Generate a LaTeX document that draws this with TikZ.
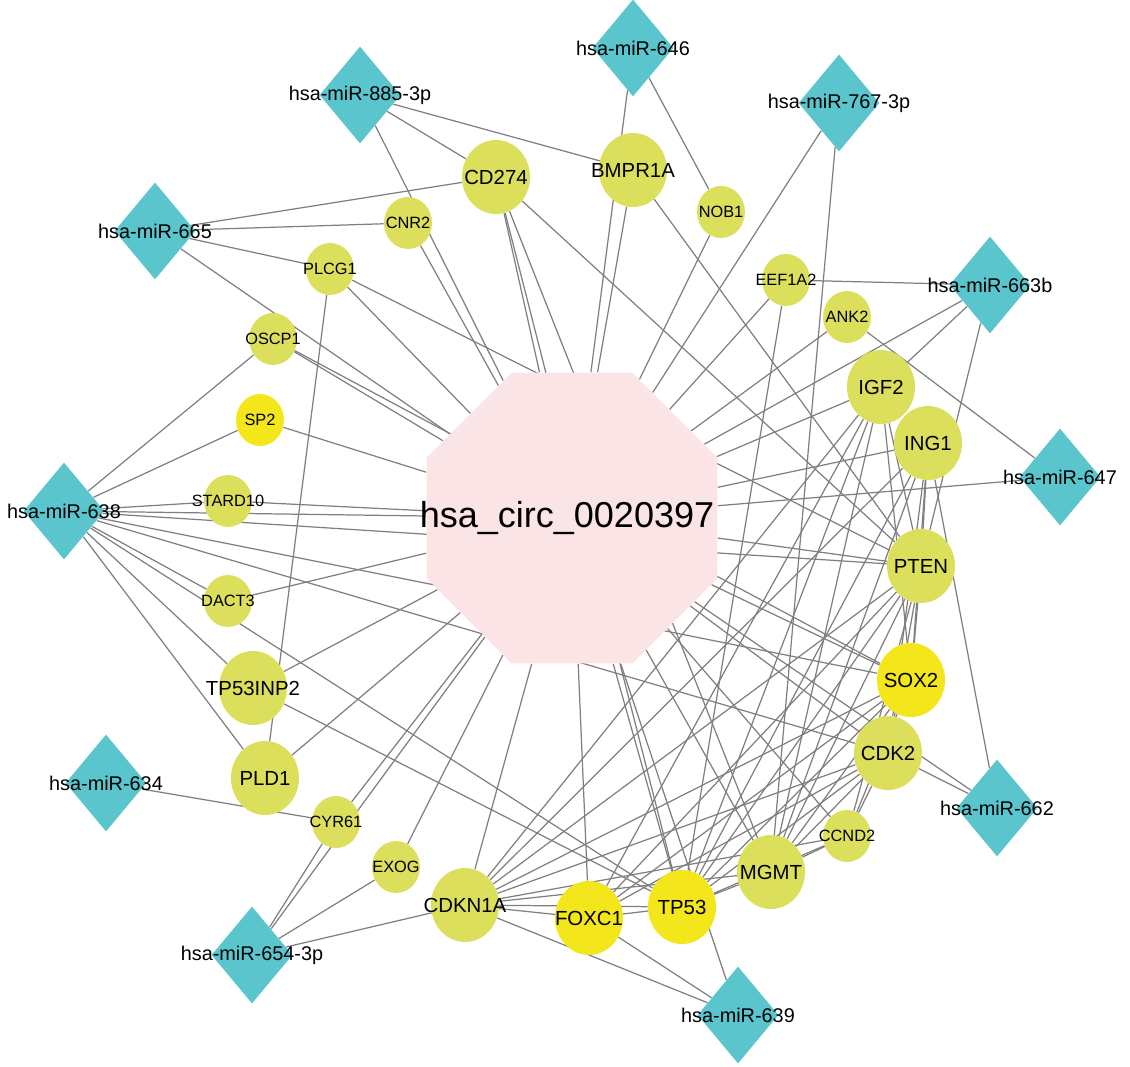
\documentclass[tikz,border=0pt]{standalone}
\usepackage{fontspec}
\setmainfont{Liberation Sans}
\usetikzlibrary{shapes.geometric,backgrounds}

\definecolor{mircol}{HTML}{5BC5CE}
\definecolor{genecol}{HTML}{DBDF5C}
\definecolor{tfcol}{HTML}{F3E61B}
\definecolor{circcol}{HTML}{FBE4E5}
\definecolor{linkcol}{HTML}{7F7F7F}

\begin{document}
\begin{tikzpicture}[x=0.02cm, y=-0.02cm,
  circrna/.style={regular polygon, regular polygon sides=8, fill=circcol, minimum size=6.3cm, inner sep=0pt,
    label={[font=\fontsize{20.5}{24}\selectfont, xshift=-0.1cm]center:#1}},
  mirna/.style={diamond, fill=mircol, minimum width=1.62cm, minimum height=1.94cm, inner sep=0pt,
    label={[font=\fontsize{11.3}{13}\selectfont]center:#1}},
  gene/.style={ellipse, fill=genecol, minimum width=0.96cm, minimum height=1.04cm, inner sep=0pt,
    label={[font=\fontsize{9.3}{11}\selectfont]center:#1}},
  biggene/.style={ellipse, fill=genecol, minimum width=1.36cm, minimum height=1.48cm, inner sep=0pt,
    label={[font=\fontsize{11.6}{13}\selectfont]center:#1}},
  tfac/.style={biggene=#1, fill=tfcol},
  link/.style={draw=linkcol, line width=0.7pt}]

\useasboundingbox (0,0) rectangle (1130,1067);

\node (circ) [circrna=hsa\_circ\_0020397] at (572,518) {};

% miRNAs
\node (m885) [mirna=hsa-miR-885-3p] at (360,95) {};
\node (m646) [mirna=hsa-miR-646] at (633,48) {};
\node (m767) [mirna=hsa-miR-767-3p] at (839,103) {};
\node (m665) [mirna=hsa-miR-665] at (155,231) {};
\node (m663b) [mirna=hsa-miR-663b] at (990,285) {};
\node (m638) [mirna=hsa-miR-638] at (64,511) {};
\node (m647) [mirna=hsa-miR-647] at (1060,477) {};
\node (m634) [mirna=hsa-miR-634] at (106,783) {};
\node (m654) [mirna=hsa-miR-654-3p] at (252,955) {};
\node (m662) [mirna=hsa-miR-662] at (997,808) {};
\node (m639) [mirna=hsa-miR-639] at (738,1015) {};

% genes
\node (cd274) [biggene=CD274] at (496,177) {};
\node (bmpr1a) [biggene=BMPR1A] at (633,170) {};
\node (nob1) [gene=NOB1] at (721,212) {};
\node (cnr2) [gene=CNR2] at (408,223) {};
\node (plcg1) [gene=PLCG1] at (330,269) {};
\node (oscp1) [gene=OSCP1] at (273,339) {};
\node (eef1a2) [gene=EEF1A2] at (786,280) {};
\node (ank2) [gene=ANK2] at (847,317) {};
\node (igf2) [biggene=IGF2] at (881,387) {};
\node (ing1) [biggene=ING1] at (928,443) {};
\node (sp2) [gene=SP2, fill=tfcol] at (260,420) {};
\node (stard10) [gene=STARD10] at (228,501) {};
\node (dact3) [gene=DACT3] at (228,601) {};
\node (tp53inp2) [biggene=TP53INP2] at (253,688) {};
\node (pten) [biggene=PTEN] at (921,566) {};
\node (sox2) [tfac=SOX2] at (911,680) {};
\node (cdk2) [biggene=CDK2] at (888,753) {};
\node (ccnd2) [gene=CCND2] at (847,836) {};
\node (mgmt) [biggene=MGMT] at (771,872) {};
\node (tp53) [tfac=TP53] at (682,907) {};
\node (foxc1) [tfac=FOXC1] at (589,918) {};
\node (cdkn1a) [biggene=CDKN1A] at (465,905) {};
\node (exog) [gene=EXOG] at (396,867) {};
\node (cyr61) [gene=CYR61] at (336,822) {};
\node (pld1) [biggene=PLD1] at (265,778) {};

\begin{scope}[on background layer]
\foreach \m in {m885,m646,m665,m767,m663b,m638,m647,m662,m639,m654}
  \draw[link] (circ) -- (\m);
\foreach \g in {cd274,bmpr1a,nob1,cnr2,plcg1,oscp1,sp2,stard10,dact3,tp53inp2,pld1,cyr61,exog,
                cdkn1a,foxc1,tp53,mgmt,ccnd2,cdk2,sox2,pten,ing1,igf2,ank2,eef1a2}
  \draw[link] (circ) -- (\g);

\draw[link] (m885) -- (cd274);
\draw[link] (m885) -- (bmpr1a);
\draw[link] (m646) -- (nob1);
\draw[link] (m665) -- (cd274);
\draw[link] (m665) -- (cnr2);
\draw[link] (m665) -- (plcg1);
\draw[link] (m767) -- (mgmt);
\draw[link] (m663b) -- (eef1a2);
\draw[link] (m663b) -- (igf2);
\draw[link] (m663b) -- (pten);
\draw[link] (m647) -- (ank2);
\draw[link] (m662) -- (ing1);
\draw[link] (m662) -- (cdk2);
\draw[link] (m639) -- (foxc1);
\draw[link] (m639) -- (cdkn1a);
\draw[link] (m654) -- (cyr61);
\draw[link] (m654) -- (exog);
\draw[link] (m654) -- (cdkn1a);
\draw[link] (m634) -- (cyr61);
\foreach \g in {oscp1,sp2,stard10,dact3,tp53inp2,pld1,sox2,cdk2,pten,tp53}
  \draw[link] (m638) -- (\g);

\draw[link] (cd274) -- (tp53);
\draw[link] (cd274) -- (mgmt);
\draw[link] (cd274) -- (pten);
\draw[link] (bmpr1a) -- (pten);
\draw[link] (plcg1) -- (pld1);
\draw[link] (plcg1) -- (pten);
\draw[link] (oscp1) -- (sox2);
\draw[link] (tp53inp2) -- (tp53);
\draw[link] (eef1a2) -- (tp53);
\foreach \g in {tp53,mgmt,cdkn1a,pten,sox2,foxc1}
  \draw[link] (igf2) -- (\g);
\foreach \g in {tp53,cdkn1a,pten,cdk2,mgmt,sox2}
  \draw[link] (ing1) -- (\g);
\foreach \g in {tp53,cdkn1a,mgmt,cdk2,ccnd2,sox2,foxc1}
  \draw[link] (pten) -- (\g);
\foreach \g in {tp53,cdkn1a,mgmt,foxc1,ccnd2}
  \draw[link] (sox2) -- (\g);
\foreach \g in {tp53,cdkn1a,ccnd2,mgmt,foxc1}
  \draw[link] (cdk2) -- (\g);
\foreach \g in {tp53,cdkn1a,mgmt}
  \draw[link] (ccnd2) -- (\g);
\draw[link] (mgmt) -- (tp53);
\draw[link] (mgmt) -- (cdkn1a);
\draw[link] (tp53) -- (cdkn1a);
\draw[link] (tp53) -- (foxc1);
\draw[link] (foxc1) -- (cdkn1a);
\end{scope}
\end{tikzpicture}
\end{document}
